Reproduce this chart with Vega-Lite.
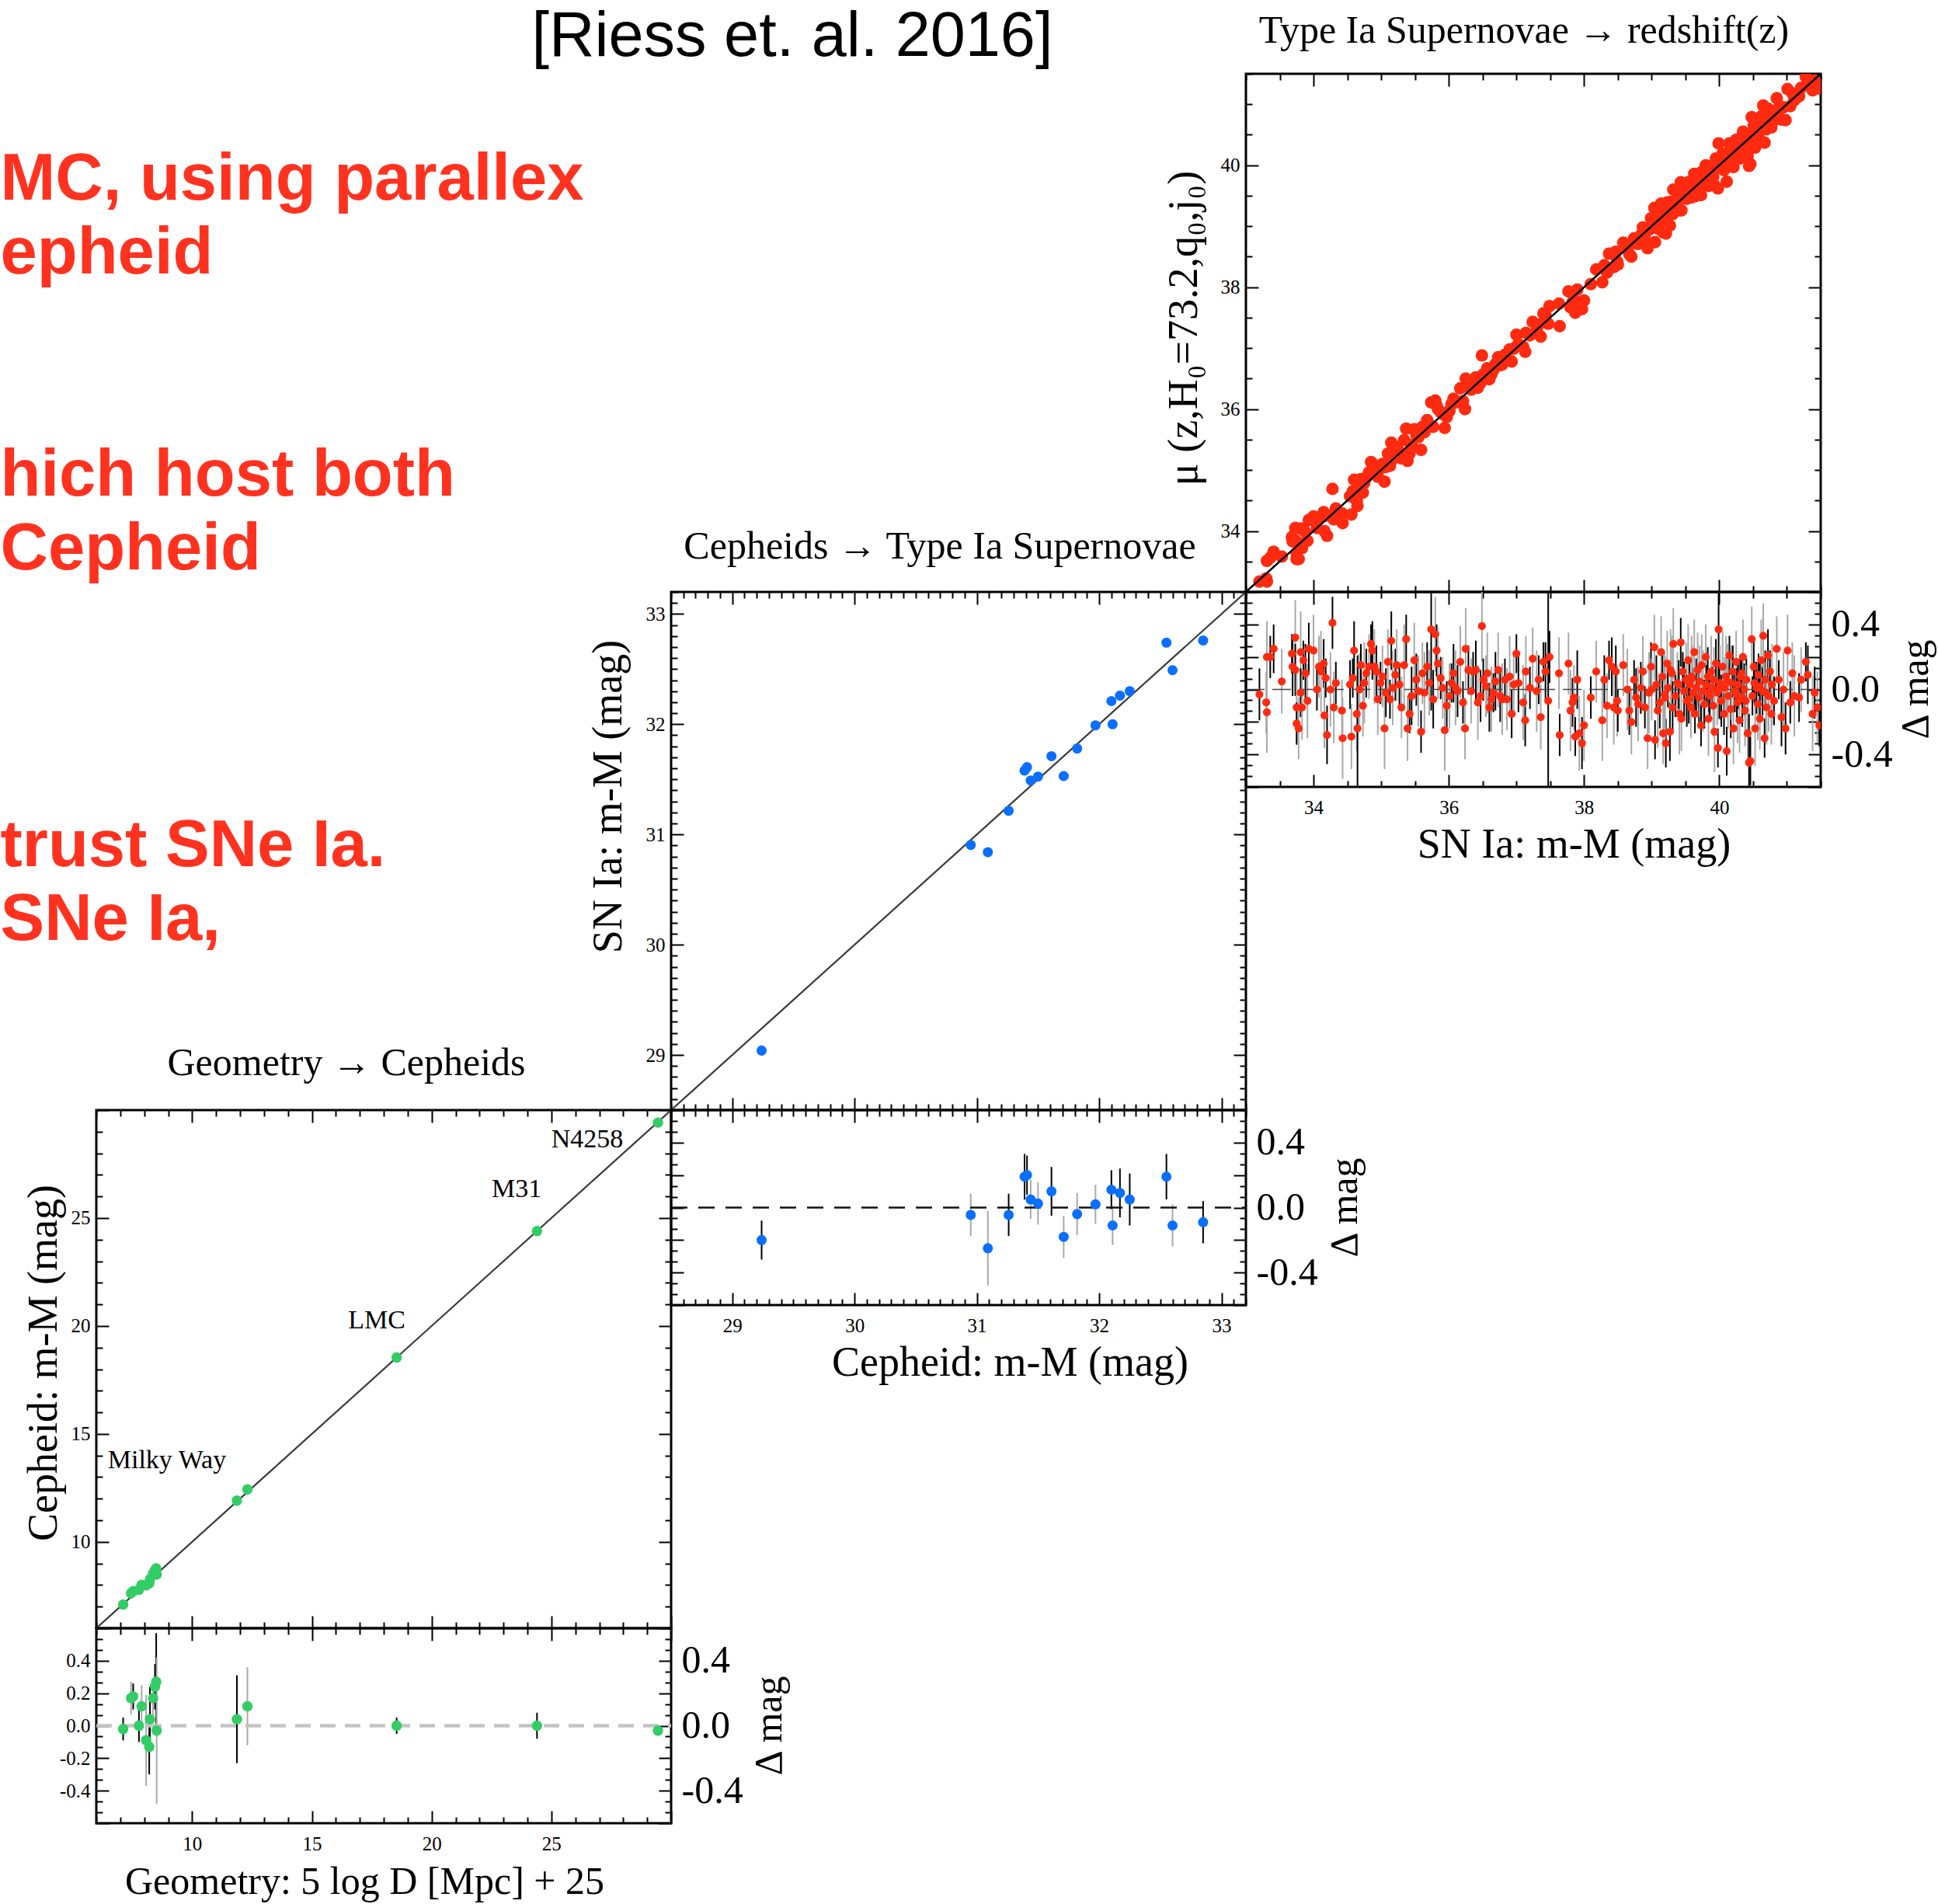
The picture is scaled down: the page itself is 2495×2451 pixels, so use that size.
{
  "$schema": "https://vega.github.io/schema/vega-lite/v6.json",
  "background": "white",
  "padding": 0,
  "columns": 4,
  "spacing": 0,
  "bounds": "flush",
  "align": "each",
  "config": {
    "view": {"stroke": null},
    "font": "Liberation Serif",
    "axis": {
      "grid": false, "domain": false, "ticks": true, "tickColor": "black", "tickWidth": 2,
      "labelFont": "Liberation Serif", "labelFontSize": 25, "labelColor": "black", "labelPadding": 24,
      "labelOverlap": false, "labelFlush": false,
      "titleFont": "Liberation Serif", "titleFontSize": 54, "titleFontWeight": "normal", "titleColor": "black"
    },
    "title": {"font": "Liberation Serif", "fontSize": 50, "fontWeight": "normal", "color": "black", "anchor": "middle", "baseline": "alphabetic"}
  },
  "datasets": {
    "notes": [
      {"t": "MC, using parallex", "line": 0},
      {"t": "epheid", "line": 1},
      {"t": "hich host both", "line": 4},
      {"t": "Cepheid", "line": 5},
      {"t": "\u00a0trust SNe Ia.", "line": 9},
      {"t": "SNe Ia,", "line": 10}
    ],
    "gal": [
      {"t": "Milky Way", "x": 8.95, "y": 13.76},
      {"t": "LMC", "x": 17.71, "y": 20.26},
      {"t": "M31", "x": 23.55, "y": 26.34},
      {"t": "N4258", "x": 26.5, "y": 28.64}
    ],
    "geo": [
      {"x":7.12,"y":7.1,"d":-0.02,"e":0.07,"g":"k"},
      {"x":7.45,"y":7.62,"d":0.17,"e":0.1,"g":"s"},
      {"x":7.54,"y":7.72,"d":0.18,"e":0.08,"g":"k"},
      {"x":7.78,"y":7.78,"d":0,"e":0.1,"g":"k"},
      {"x":7.89,"y":8.01,"d":0.12,"e":0.13,"g":"s"},
      {"x":8.08,"y":7.99,"d":-0.09,"e":0.28,"g":"s"},
      {"x":8.21,"y":8.08,"d":-0.13,"e":0.17,"g":"k"},
      {"x":8.24,"y":8.28,"d":0.04,"e":0.2,"g":"k"},
      {"x":8.37,"y":8.54,"d":0.17,"e":0.12,"g":"s"},
      {"x":8.45,"y":8.69,"d":0.24,"e":0.14,"g":"k"},
      {"x":8.5,"y":8.77,"d":0.27,"e":0.3,"g":"k"},
      {"x":8.52,"y":8.49,"d":-0.03,"e":0.45,"g":"s"},
      {"x":11.87,"y":11.91,"d":0.04,"e":0.27,"g":"k"},
      {"x":12.31,"y":12.43,"d":0.12,"e":0.24,"g":"s"},
      {"x":18.54,"y":18.54,"d":0,"e":0.05,"g":"k"},
      {"x":24.4,"y":24.4,"d":0,"e":0.08,"g":"k"},
      {"x":29.45,"y":29.42,"d":-0.03,"e":0.03,"g":"k"}
    ],
    "ceph": [
      {"x":29.24,"y":29.04,"d":-0.2,"e":0.12,"g":"k"},
      {"x":30.95,"y":30.905,"d":-0.045,"e":0.13,"g":"s"},
      {"x":31.09,"y":30.84,"d":-0.25,"e":0.23,"g":"s"},
      {"x":31.26,"y":31.215,"d":-0.045,"e":0.13,"g":"k"},
      {"x":31.39,"y":31.58,"d":0.19,"e":0.14,"g":"k"},
      {"x":31.41,"y":31.61,"d":0.2,"e":0.12,"g":"k"},
      {"x":31.44,"y":31.49,"d":0.05,"e":0.12,"g":"s"},
      {"x":31.5,"y":31.525,"d":0.025,"e":0.13,"g":"s"},
      {"x":31.61,"y":31.71,"d":0.1,"e":0.15,"g":"k"},
      {"x":31.71,"y":31.53,"d":-0.18,"e":0.13,"g":"s"},
      {"x":31.82,"y":31.78,"d":-0.04,"e":0.13,"g":"s"},
      {"x":31.97,"y":31.99,"d":0.02,"e":0.12,"g":"s"},
      {"x":32.1,"y":32.21,"d":0.11,"e":0.12,"g":"k"},
      {"x":32.11,"y":32,"d":-0.11,"e":0.12,"g":"s"},
      {"x":32.17,"y":32.26,"d":0.09,"e":0.15,"g":"k"},
      {"x":32.25,"y":32.3,"d":0.05,"e":0.16,"g":"k"},
      {"x":32.55,"y":32.74,"d":0.19,"e":0.14,"g":"k"},
      {"x":32.6,"y":32.49,"d":-0.11,"e":0.13,"g":"s"},
      {"x":32.85,"y":32.76,"d":-0.09,"e":0.13,"g":"k"}
    ],
    "sn": [
      {"x":33.2,"mu":33.17,"d":-0.03,"e":0.16,"g":"k"},
      {"x":33.31,"mu":33.51,"d":0.2,"e":0.22,"g":"s"},
      {"x":33.36,"mu":33.56,"d":0.2,"e":0.13,"g":"k"},
      {"x":33.3,"mu":33.22,"d":-0.08,"e":0.19,"g":"s"},
      {"x":33.31,"mu":33.17,"d":-0.14,"e":0.25,"g":"s"},
      {"x":33.41,"mu":33.66,"d":0.25,"e":0.15,"g":"k"},
      {"x":33.53,"mu":33.58,"d":0.05,"e":0.2,"g":"s"},
      {"x":33.68,"mu":33.9,"d":0.22,"e":0.12,"g":"k"},
      {"x":33.69,"mu":33.83,"d":0.14,"e":0.18,"g":"k"},
      {"x":33.73,"mu":34.05,"d":0.32,"e":0.23,"g":"s"},
      {"x":33.73,"mu":33.85,"d":0.12,"e":0.16,"g":"k"},
      {"x":33.75,"mu":33.64,"d":-0.11,"e":0.22,"g":"s"},
      {"x":33.75,"mu":33.54,"d":-0.21,"e":0.13,"g":"k"},
      {"x":33.78,"mu":33.54,"d":-0.24,"e":0.19,"g":"s"},
      {"x":33.81,"mu":34.04,"d":0.23,"e":0.25,"g":"s"},
      {"x":33.81,"mu":33.79,"d":-0.02,"e":0.15,"g":"k"},
      {"x":33.83,"mu":33.72,"d":-0.11,"e":0.2,"g":"s"},
      {"x":33.85,"mu":34.03,"d":0.18,"e":0.12,"g":"k"},
      {"x":33.88,"mu":33.98,"d":0.1,"e":0.18,"g":"k"},
      {"x":33.91,"mu":33.84,"d":-0.07,"e":0.23,"g":"s"},
      {"x":33.93,"mu":34.18,"d":0.25,"e":0.16,"g":"k"},
      {"x":34,"mu":34.24,"d":0.24,"e":0.22,"g":"s"},
      {"x":34.05,"mu":34.05,"d":0,"e":0.13,"g":"k"},
      {"x":34.08,"mu":34.22,"d":0.14,"e":0.19,"g":"s"},
      {"x":34.11,"mu":34.22,"d":0.11,"e":0.25,"g":"s"},
      {"x":34.15,"mu":34.31,"d":0.16,"e":0.15,"g":"k"},
      {"x":34.16,"mu":34,"d":-0.16,"e":0.2,"g":"s"},
      {"x":34.18,"mu":34.25,"d":0.07,"e":0.12,"g":"k"},
      {"x":34.2,"mu":33.92,"d":-0.28,"e":0.18,"g":"k"},
      {"x":34.25,"mu":34.25,"d":0,"e":0.23,"g":"s"},
      {"x":34.28,"mu":34.69,"d":0.41,"e":0.16,"g":"k"},
      {"x":34.3,"mu":34.19,"d":-0.11,"e":0.22,"g":"s"},
      {"x":34.33,"mu":34.37,"d":0.04,"e":0.13,"g":"k"},
      {"x":34.42,"mu":34.29,"d":-0.13,"e":0.19,"g":"s"},
      {"x":34.43,"mu":34.13,"d":-0.3,"e":0.25,"g":"s"},
      {"x":34.54,"mu":34.57,"d":0.03,"e":0.15,"g":"k"},
      {"x":34.56,"mu":34.27,"d":-0.29,"e":0.2,"g":"s"},
      {"x":34.58,"mu":34.65,"d":0.07,"e":0.12,"g":"k"},
      {"x":34.6,"mu":34.84,"d":0.24,"e":0.18,"g":"k"},
      {"x":34.64,"mu":34.49,"d":-0.15,"e":0.23,"g":"s"},
      {"x":34.65,"mu":34.41,"d":-0.24,"e":0.45,"g":"k"},
      {"x":34.68,"mu":34.68,"d":0,"e":0.22,"g":"s"},
      {"x":34.7,"mu":34.85,"d":0.15,"e":0.13,"g":"k"},
      {"x":34.73,"mu":34.63,"d":-0.1,"e":0.19,"g":"s"},
      {"x":34.75,"mu":34.79,"d":0.04,"e":0.25,"g":"s"},
      {"x":34.78,"mu":34.88,"d":0.1,"e":0.15,"g":"k"},
      {"x":34.82,"mu":34.96,"d":0.14,"e":0.2,"g":"s"},
      {"x":34.85,"mu":35.13,"d":0.28,"e":0.12,"g":"k"},
      {"x":34.87,"mu":35.11,"d":0.24,"e":0.18,"g":"k"},
      {"x":34.9,"mu":35.04,"d":0.14,"e":0.23,"g":"s"},
      {"x":34.93,"mu":35.04,"d":0.11,"e":0.16,"g":"k"},
      {"x":34.95,"mu":34.89,"d":-0.06,"e":0.22,"g":"s"},
      {"x":34.99,"mu":35.03,"d":0.04,"e":0.13,"g":"k"},
      {"x":35.02,"mu":35.1,"d":0.08,"e":0.19,"g":"s"},
      {"x":35.05,"mu":34.81,"d":-0.24,"e":0.25,"g":"s"},
      {"x":35.07,"mu":35.05,"d":-0.02,"e":0.15,"g":"k"},
      {"x":35.1,"mu":35.27,"d":0.17,"e":0.2,"g":"s"},
      {"x":35.13,"mu":35.07,"d":-0.06,"e":0.12,"g":"k"},
      {"x":35.15,"mu":35.45,"d":0.3,"e":0.18,"g":"k"},
      {"x":35.17,"mu":35.18,"d":0.01,"e":0.23,"g":"s"},
      {"x":35.21,"mu":35.3,"d":0.09,"e":0.16,"g":"k"},
      {"x":35.23,"mu":35.38,"d":0.15,"e":0.22,"g":"s"},
      {"x":35.27,"mu":35.3,"d":0.03,"e":0.13,"g":"k"},
      {"x":35.3,"mu":35.19,"d":-0.11,"e":0.19,"g":"s"},
      {"x":35.34,"mu":35.49,"d":0.15,"e":0.25,"g":"s"},
      {"x":35.37,"mu":35.68,"d":0.31,"e":0.15,"g":"k"},
      {"x":35.39,"mu":35.15,"d":-0.24,"e":0.2,"g":"s"},
      {"x":35.42,"mu":35.27,"d":-0.15,"e":0.12,"g":"k"},
      {"x":35.45,"mu":35.41,"d":-0.04,"e":0.18,"g":"k"},
      {"x":35.49,"mu":35.67,"d":0.18,"e":0.23,"g":"s"},
      {"x":35.52,"mu":35.58,"d":0.06,"e":0.16,"g":"k"},
      {"x":35.55,"mu":35.54,"d":-0.01,"e":0.22,"g":"s"},
      {"x":35.59,"mu":35.33,"d":-0.26,"e":0.13,"g":"k"},
      {"x":35.61,"mu":35.71,"d":0.1,"e":0.19,"g":"s"},
      {"x":35.64,"mu":35.62,"d":-0.02,"e":0.25,"g":"s"},
      {"x":35.68,"mu":35.82,"d":0.14,"e":0.15,"g":"k"},
      {"x":35.71,"mu":35.75,"d":0.04,"e":0.2,"g":"s"},
      {"x":35.74,"mu":36.11,"d":0.37,"e":0.5,"g":"k"},
      {"x":35.77,"mu":35.71,"d":-0.06,"e":0.18,"g":"k"},
      {"x":35.8,"mu":36.14,"d":0.34,"e":0.23,"g":"s"},
      {"x":35.82,"mu":36.06,"d":0.24,"e":0.16,"g":"k"},
      {"x":35.84,"mu":36,"d":0.16,"e":0.22,"g":"s"},
      {"x":35.88,"mu":35.95,"d":0.07,"e":0.13,"g":"k"},
      {"x":35.91,"mu":35.92,"d":0.01,"e":0.19,"g":"s"},
      {"x":35.94,"mu":35.69,"d":-0.25,"e":0.25,"g":"s"},
      {"x":35.97,"mu":35.87,"d":-0.1,"e":0.15,"g":"k"},
      {"x":36.01,"mu":35.97,"d":-0.04,"e":0.2,"g":"s"},
      {"x":36.04,"mu":36.08,"d":0.04,"e":0.12,"g":"k"},
      {"x":36.07,"mu":36.17,"d":0.1,"e":0.18,"g":"k"},
      {"x":36.1,"mu":36.11,"d":0.01,"e":0.23,"g":"s"},
      {"x":36.13,"mu":36.12,"d":-0.01,"e":0.16,"g":"k"},
      {"x":36.17,"mu":36.34,"d":0.17,"e":0.22,"g":"s"},
      {"x":36.21,"mu":36.13,"d":-0.08,"e":0.13,"g":"k"},
      {"x":36.24,"mu":36,"d":-0.24,"e":0.19,"g":"s"},
      {"x":36.25,"mu":36.5,"d":0.25,"e":0.25,"g":"s"},
      {"x":36.29,"mu":36.41,"d":0.12,"e":0.15,"g":"k"},
      {"x":36.33,"mu":36.32,"d":-0.01,"e":0.2,"g":"s"},
      {"x":36.36,"mu":36.47,"d":0.11,"e":0.12,"g":"k"},
      {"x":36.4,"mu":36.52,"d":0.12,"e":0.18,"g":"k"},
      {"x":36.43,"mu":36.35,"d":-0.08,"e":0.23,"g":"s"},
      {"x":36.47,"mu":36.43,"d":-0.04,"e":0.16,"g":"k"},
      {"x":36.49,"mu":36.88,"d":0.39,"e":0.22,"g":"s"},
      {"x":36.51,"mu":36.57,"d":0.06,"e":0.13,"g":"k"},
      {"x":36.55,"mu":36.57,"d":0.02,"e":0.19,"g":"s"},
      {"x":36.57,"mu":36.67,"d":0.1,"e":0.25,"g":"s"},
      {"x":36.6,"mu":36.49,"d":-0.11,"e":0.15,"g":"k"},
      {"x":36.63,"mu":36.57,"d":-0.06,"e":0.2,"g":"s"},
      {"x":36.66,"mu":36.64,"d":-0.02,"e":0.12,"g":"k"},
      {"x":36.69,"mu":36.74,"d":0.05,"e":0.18,"g":"k"},
      {"x":36.73,"mu":36.85,"d":0.12,"e":0.23,"g":"s"},
      {"x":36.76,"mu":36.72,"d":-0.04,"e":0.16,"g":"k"},
      {"x":36.79,"mu":36.73,"d":-0.06,"e":0.22,"g":"s"},
      {"x":36.83,"mu":36.89,"d":0.06,"e":0.13,"g":"k"},
      {"x":36.86,"mu":36.8,"d":-0.06,"e":0.19,"g":"s"},
      {"x":36.9,"mu":36.98,"d":0.08,"e":0.25,"g":"s"},
      {"x":36.93,"mu":36.78,"d":-0.15,"e":0.15,"g":"k"},
      {"x":36.96,"mu":36.99,"d":0.03,"e":0.2,"g":"s"},
      {"x":37,"mu":37.22,"d":0.22,"e":0.12,"g":"k"},
      {"x":37.03,"mu":37.07,"d":0.04,"e":0.18,"g":"k"},
      {"x":37.1,"mu":37.02,"d":-0.08,"e":0.23,"g":"s"},
      {"x":37.13,"mu":36.94,"d":-0.19,"e":0.16,"g":"k"},
      {"x":37.14,"mu":37.25,"d":0.11,"e":0.22,"g":"s"},
      {"x":37.2,"mu":37.21,"d":0.01,"e":0.13,"g":"k"},
      {"x":37.24,"mu":37.43,"d":0.19,"e":0.19,"g":"s"},
      {"x":37.3,"mu":37.29,"d":-0.01,"e":0.25,"g":"s"},
      {"x":37.33,"mu":37.39,"d":0.06,"e":0.15,"g":"k"},
      {"x":37.36,"mu":37.19,"d":-0.17,"e":0.2,"g":"s"},
      {"x":37.4,"mu":37.57,"d":0.17,"e":0.12,"g":"k"},
      {"x":37.43,"mu":37.54,"d":0.11,"e":0.18,"g":"k"},
      {"x":37.47,"mu":37.4,"d":-0.07,"e":0.75,"g":"k"},
      {"x":37.49,"mu":37.69,"d":0.2,"e":0.16,"g":"k"},
      {"x":37.63,"mu":37.73,"d":0.1,"e":0.22,"g":"s"},
      {"x":37.64,"mu":37.36,"d":-0.28,"e":0.13,"g":"k"},
      {"x":37.77,"mu":37.93,"d":0.16,"e":0.19,"g":"s"},
      {"x":37.8,"mu":37.67,"d":-0.13,"e":0.25,"g":"s"},
      {"x":37.83,"mu":37.75,"d":-0.08,"e":0.15,"g":"k"},
      {"x":37.85,"mu":37.8,"d":-0.05,"e":0.2,"g":"s"},
      {"x":37.87,"mu":37.58,"d":-0.29,"e":0.12,"g":"k"},
      {"x":37.9,"mu":37.96,"d":0.06,"e":0.18,"g":"k"},
      {"x":37.93,"mu":37.66,"d":-0.27,"e":0.23,"g":"s"},
      {"x":37.97,"mu":37.64,"d":-0.33,"e":0.16,"g":"k"},
      {"x":38,"mu":37.78,"d":-0.22,"e":0.22,"g":"s"},
      {"x":38.1,"mu":38.05,"d":-0.05,"e":0.13,"g":"k"},
      {"x":38.18,"mu":38.29,"d":0.11,"e":0.19,"g":"s"},
      {"x":38.27,"mu":38.08,"d":-0.19,"e":0.25,"g":"s"},
      {"x":38.3,"mu":38.36,"d":0.06,"e":0.15,"g":"k"},
      {"x":38.34,"mu":38.24,"d":-0.1,"e":0.2,"g":"s"},
      {"x":38.37,"mu":38.55,"d":0.18,"e":0.12,"g":"k"},
      {"x":38.41,"mu":38.55,"d":0.14,"e":0.18,"g":"k"},
      {"x":38.44,"mu":38.33,"d":-0.11,"e":0.23,"g":"s"},
      {"x":38.47,"mu":38.58,"d":0.11,"e":0.16,"g":"k"},
      {"x":38.49,"mu":38.42,"d":-0.07,"e":0.22,"g":"s"},
      {"x":38.5,"mu":38.37,"d":-0.13,"e":0.13,"g":"k"},
      {"x":38.58,"mu":38.73,"d":0.15,"e":0.19,"g":"s"},
      {"x":38.64,"mu":38.64,"d":0,"e":0.25,"g":"s"},
      {"x":38.67,"mu":38.54,"d":-0.13,"e":0.15,"g":"k"},
      {"x":38.7,"mu":38.5,"d":-0.2,"e":0.2,"g":"s"},
      {"x":38.74,"mu":38.8,"d":0.06,"e":0.12,"g":"k"},
      {"x":38.77,"mu":38.72,"d":-0.05,"e":0.18,"g":"k"},
      {"x":38.8,"mu":38.71,"d":-0.09,"e":0.23,"g":"s"},
      {"x":38.84,"mu":38.85,"d":0.01,"e":0.16,"g":"k"},
      {"x":38.87,"mu":38.98,"d":0.11,"e":0.22,"g":"s"},
      {"x":38.9,"mu":38.79,"d":-0.11,"e":0.13,"g":"k"},
      {"x":38.94,"mu":38.64,"d":-0.3,"e":0.19,"g":"s"},
      {"x":38.96,"mu":38.94,"d":-0.02,"e":0.25,"g":"s"},
      {"x":38.99,"mu":39.13,"d":0.14,"e":0.15,"g":"k"},
      {"x":39.04,"mu":39.3,"d":0.26,"e":0.2,"g":"s"},
      {"x":39.05,"mu":38.74,"d":-0.31,"e":0.12,"g":"k"},
      {"x":39.07,"mu":39.1,"d":0.03,"e":0.18,"g":"k"},
      {"x":39.09,"mu":38.96,"d":-0.13,"e":0.23,"g":"s"},
      {"x":39.12,"mu":39.04,"d":-0.08,"e":0.16,"g":"k"},
      {"x":39.14,"mu":39.37,"d":0.23,"e":0.22,"g":"s"},
      {"x":39.16,"mu":39.24,"d":0.08,"e":0.13,"g":"k"},
      {"x":39.17,"mu":38.9,"d":-0.27,"e":0.19,"g":"s"},
      {"x":39.19,"mu":39.16,"d":-0.03,"e":0.25,"g":"s"},
      {"x":39.21,"mu":38.88,"d":-0.33,"e":0.15,"g":"k"},
      {"x":39.23,"mu":39.39,"d":0.16,"e":0.2,"g":"s"},
      {"x":39.24,"mu":39.25,"d":0.01,"e":0.12,"g":"k"},
      {"x":39.27,"mu":39.01,"d":-0.26,"e":0.18,"g":"k"},
      {"x":39.3,"mu":39.4,"d":0.1,"e":0.23,"g":"s"},
      {"x":39.31,"mu":39.2,"d":-0.11,"e":0.16,"g":"k"},
      {"x":39.32,"mu":39.6,"d":0.28,"e":0.22,"g":"s"},
      {"x":39.35,"mu":39.31,"d":-0.04,"e":0.13,"g":"k"},
      {"x":39.38,"mu":39.42,"d":0.04,"e":0.19,"g":"s"},
      {"x":39.41,"mu":39.26,"d":-0.15,"e":0.25,"g":"s"},
      {"x":39.43,"mu":39.72,"d":0.29,"e":0.15,"g":"k"},
      {"x":39.44,"mu":39.26,"d":-0.18,"e":0.2,"g":"s"},
      {"x":39.46,"mu":39.57,"d":0.11,"e":0.12,"g":"k"},
      {"x":39.48,"mu":39.47,"d":-0.01,"e":0.18,"g":"k"},
      {"x":39.51,"mu":39.57,"d":0.06,"e":0.23,"g":"s"},
      {"x":39.52,"mu":39.45,"d":-0.07,"e":0.16,"g":"k"},
      {"x":39.54,"mu":39.72,"d":0.18,"e":0.22,"g":"s"},
      {"x":39.56,"mu":39.59,"d":0.03,"e":0.13,"g":"k"},
      {"x":39.58,"mu":39.47,"d":-0.11,"e":0.19,"g":"s"},
      {"x":39.59,"mu":39.67,"d":0.08,"e":0.25,"g":"s"},
      {"x":39.61,"mu":39.59,"d":-0.02,"e":0.15,"g":"k"},
      {"x":39.63,"mu":39.86,"d":0.23,"e":0.2,"g":"s"},
      {"x":39.64,"mu":39.49,"d":-0.15,"e":0.12,"g":"k"},
      {"x":39.66,"mu":39.67,"d":0.01,"e":0.18,"g":"k"},
      {"x":39.68,"mu":39.8,"d":0.12,"e":0.23,"g":"s"},
      {"x":39.7,"mu":39.65,"d":-0.05,"e":0.16,"g":"k"},
      {"x":39.71,"mu":39.76,"d":0.05,"e":0.22,"g":"s"},
      {"x":39.73,"mu":39.51,"d":-0.22,"e":0.13,"g":"k"},
      {"x":39.74,"mu":39.89,"d":0.15,"e":0.19,"g":"s"},
      {"x":39.76,"mu":39.75,"d":-0.01,"e":0.25,"g":"s"},
      {"x":39.78,"mu":39.69,"d":-0.09,"e":0.15,"g":"k"},
      {"x":39.8,"mu":40,"d":0.2,"e":0.2,"g":"s"},
      {"x":39.81,"mu":39.84,"d":0.03,"e":0.12,"g":"k"},
      {"x":39.83,"mu":39.91,"d":0.08,"e":0.18,"g":"k"},
      {"x":39.84,"mu":39.66,"d":-0.18,"e":0.23,"g":"s"},
      {"x":39.86,"mu":39.82,"d":-0.04,"e":0.16,"g":"k"},
      {"x":39.88,"mu":39.99,"d":0.11,"e":0.22,"g":"s"},
      {"x":39.9,"mu":39.91,"d":0.01,"e":0.13,"g":"k"},
      {"x":39.91,"mu":39.81,"d":-0.1,"e":0.19,"g":"s"},
      {"x":39.93,"mu":39.67,"d":-0.26,"e":0.25,"g":"s"},
      {"x":39.95,"mu":40.11,"d":0.16,"e":0.15,"g":"k"},
      {"x":39.97,"mu":39.95,"d":-0.02,"e":0.2,"g":"s"},
      {"x":39.98,"mu":39.62,"d":-0.36,"e":0.12,"g":"k"},
      {"x":39.99,"mu":40.36,"d":0.37,"e":0.35,"g":"k"},
      {"x":40.01,"mu":40.05,"d":0.04,"e":0.23,"g":"s"},
      {"x":40.03,"mu":39.96,"d":-0.07,"e":0.16,"g":"k"},
      {"x":40.05,"mu":40.19,"d":0.14,"e":0.22,"g":"s"},
      {"x":40.07,"mu":39.92,"d":-0.15,"e":0.13,"g":"k"},
      {"x":40.08,"mu":40.09,"d":0.01,"e":0.19,"g":"s"},
      {"x":40.1,"mu":40.18,"d":0.08,"e":0.25,"g":"s"},
      {"x":40.11,"mu":39.73,"d":-0.38,"e":0.15,"g":"k"},
      {"x":40.13,"mu":40.09,"d":-0.04,"e":0.2,"g":"s"},
      {"x":40.15,"mu":40.36,"d":0.21,"e":0.12,"g":"k"},
      {"x":40.17,"mu":40.05,"d":-0.12,"e":0.18,"g":"k"},
      {"x":40.18,"mu":40.22,"d":0.04,"e":0.23,"g":"s"},
      {"x":40.2,"mu":40.31,"d":0.11,"e":0.16,"g":"k"},
      {"x":40.21,"mu":39.97,"d":-0.24,"e":0.22,"g":"s"},
      {"x":40.23,"mu":40.22,"d":-0.01,"e":0.13,"g":"k"},
      {"x":40.25,"mu":40.42,"d":0.17,"e":0.19,"g":"s"},
      {"x":40.27,"mu":40.19,"d":-0.08,"e":0.25,"g":"s"},
      {"x":40.28,"mu":40.31,"d":0.03,"e":0.15,"g":"k"},
      {"x":40.3,"mu":40.11,"d":-0.19,"e":0.2,"g":"s"},
      {"x":40.31,"mu":40.39,"d":0.08,"e":0.12,"g":"k"},
      {"x":40.34,"mu":40.29,"d":-0.05,"e":0.18,"g":"k"},
      {"x":40.35,"mu":40.55,"d":0.2,"e":0.23,"g":"s"},
      {"x":40.37,"mu":40.37,"d":0,"e":0.16,"g":"k"},
      {"x":40.38,"mu":40.25,"d":-0.13,"e":0.22,"g":"s"},
      {"x":40.4,"mu":40.46,"d":0.06,"e":0.13,"g":"k"},
      {"x":40.42,"mu":40.15,"d":-0.27,"e":0.19,"g":"s"},
      {"x":40.44,"mu":39.99,"d":-0.45,"e":0.3,"g":"k"},
      {"x":40.46,"mu":40.02,"d":-0.44,"e":0.15,"g":"k"},
      {"x":40.48,"mu":40.79,"d":0.31,"e":0.2,"g":"s"},
      {"x":40.49,"mu":40.45,"d":-0.04,"e":0.12,"g":"k"},
      {"x":40.51,"mu":40.65,"d":0.14,"e":0.18,"g":"k"},
      {"x":40.53,"mu":40.29,"d":-0.24,"e":0.23,"g":"s"},
      {"x":40.55,"mu":40.56,"d":0.01,"e":0.16,"g":"k"},
      {"x":40.57,"mu":40.48,"d":-0.09,"e":0.22,"g":"s"},
      {"x":40.58,"mu":40.67,"d":0.09,"e":0.13,"g":"k"},
      {"x":40.6,"mu":40.42,"d":-0.18,"e":0.19,"g":"s"},
      {"x":40.62,"mu":40.8,"d":0.18,"e":0.25,"g":"s"},
      {"x":40.64,"mu":40.63,"d":-0.01,"e":0.15,"g":"k"},
      {"x":40.65,"mu":40.98,"d":0.33,"e":0.2,"g":"s"},
      {"x":40.67,"mu":40.37,"d":-0.3,"e":0.12,"g":"k"},
      {"x":40.68,"mu":40.74,"d":0.06,"e":0.18,"g":"k"},
      {"x":40.7,"mu":40.59,"d":-0.11,"e":0.23,"g":"s"},
      {"x":40.72,"mu":40.93,"d":0.21,"e":0.16,"g":"k"},
      {"x":40.73,"mu":40.69,"d":-0.04,"e":0.22,"g":"s"},
      {"x":40.75,"mu":40.86,"d":0.11,"e":0.13,"g":"k"},
      {"x":40.77,"mu":40.62,"d":-0.15,"e":0.19,"g":"s"},
      {"x":40.78,"mu":40.81,"d":0.03,"e":0.25,"g":"s"},
      {"x":40.81,"mu":40.74,"d":-0.07,"e":0.15,"g":"k"},
      {"x":40.85,"mu":41.1,"d":0.25,"e":0.2,"g":"s"},
      {"x":40.88,"mu":40.94,"d":0.06,"e":0.12,"g":"k"},
      {"x":40.92,"mu":40.75,"d":-0.17,"e":0.18,"g":"k"},
      {"x":40.95,"mu":40.95,"d":0,"e":0.23,"g":"s"},
      {"x":40.98,"mu":40.74,"d":-0.24,"e":0.16,"g":"k"},
      {"x":41.01,"mu":41.25,"d":0.24,"e":0.22,"g":"s"},
      {"x":41.05,"mu":40.97,"d":-0.08,"e":0.13,"g":"k"},
      {"x":41.08,"mu":41.18,"d":0.1,"e":0.19,"g":"s"},
      {"x":41.11,"mu":41.07,"d":-0.04,"e":0.25,"g":"s"},
      {"x":41.18,"mu":41.13,"d":-0.05,"e":0.15,"g":"k"},
      {"x":41.21,"mu":41.27,"d":0.06,"e":0.2,"g":"s"},
      {"x":41.28,"mu":41.45,"d":0.17,"e":0.12,"g":"k"},
      {"x":41.31,"mu":41.4,"d":0.09,"e":0.18,"g":"k"},
      {"x":41.38,"mu":41.23,"d":-0.15,"e":0.23,"g":"s"},
      {"x":41.41,"mu":41.39,"d":-0.02,"e":0.16,"g":"k"},
      {"x":41.45,"mu":41.34,"d":-0.11,"e":0.22,"g":"s"},
      {"x":41.48,"mu":41.26,"d":-0.22,"e":0.13,"g":"k"},
      {"x":39,"mu":39,"d":0,"e":0.19,"g":"s"},
      {"x":39.2,"mu":39.15,"d":-0.05,"e":0.25,"g":"s"},
      {"x":39.4,"mu":39.43,"d":0.03,"e":0.15,"g":"k"},
      {"x":39.6,"mu":39.67,"d":0.07,"e":0.2,"g":"s"},
      {"x":39.85,"mu":39.83,"d":-0.02,"e":0.12,"g":"k"},
      {"x":40,"mu":40,"d":0,"e":0.18,"g":"k"},
      {"x":40.12,"mu":40.17,"d":0.05,"e":0.23,"g":"s"},
      {"x":40.26,"mu":40.23,"d":-0.03,"e":0.16,"g":"k"},
      {"x":40.39,"mu":40.32,"d":-0.07,"e":0.22,"g":"s"},
      {"x":40.52,"mu":40.56,"d":0.04,"e":0.13,"g":"k"},
      {"x":40.69,"mu":40.67,"d":-0.02,"e":0.19,"g":"s"},
      {"x":39.28,"mu":39.4,"d":0.12,"e":0.25,"g":"s"},
      {"x":39.55,"mu":39.49,"d":-0.06,"e":0.15,"g":"k"},
      {"x":39.92,"mu":39.98,"d":0.06,"e":0.2,"g":"s"},
      {"x":40.33,"mu":40.43,"d":0.1,"e":0.12,"g":"k"},
      {"x":40.6,"mu":40.62,"d":0.02,"e":0.18,"g":"k"}
    ]
  },
  "concat": [
    {"width": 124, "height": 95, "data": {"values": []}, "mark": "point"},
    {"width": 1, "height": 1, "data": {"values": []}, "mark": "point"},
    {"width": 312, "height": 95, "data": {"values": [{"t": "[Riess et. al. 2016]"}]},
     "mark": {"type": "text", "align": "center", "baseline": "middle", "font": "Liberation Sans", "fontSize": 81, "color": "black"},
     "encoding": {"text": {"field": "t"}}},
    {"width": 1, "height": 1, "data": {"values": []}, "mark": "point"},

    {"width": 1, "height": 667, "data": {"name": "notes"},
     "mark": {"type": "text", "align": "left", "baseline": "alphabetic", "font": "Liberation Sans", "fontWeight": "bold", "fontSize": 85, "color": "#ff3220"},
     "encoding": {
       "y": {"field": "line", "type": "quantitative", "scale": {"domain": [-1.7, 5.3], "reverse": true, "nice": false, "zero": false}, "axis": null},
       "text": {"field": "t"}
     }},
    {"width": 1, "height": 1, "data": {"values": []}, "mark": "point"},
    {"width": 1, "height": 1, "data": {"values": []}, "mark": "point"},
    {
      "width": 740, "height": 667,
      "view": {"stroke": "black", "strokeWidth": 3},
      "title": {"text": "Type Ia Supernovae → redshift(z)", "dx": -12, "offset": 18},
      "layer": [
        {"data": {"name": "sn"},
         "mark": {"type": "circle", "color": "#ff2a10", "size": 260, "opacity": 1, "clip": true},
         "encoding": {
           "x": {"field": "x", "type": "quantitative", "scale": {"domain": [33, 41.5], "nice": false, "zero": false},
                 "axis": {"orient": "bottom", "values": [33,33.5,34,34.5,35,35.5,36,36.5,37,37.5,38,38.5,39,39.5,40,40.5,41,41.5], "tickSize": {"condition": {"test": "datum.value % 2 === 0", "value": -16}, "value": -8}, "labels": false, "title": null}},
           "y": {"field": "mu", "type": "quantitative", "scale": {"domain": [33, 41.5], "nice": false, "zero": false},
                 "axis": {"orient": "left", "values": [33,33.5,34,34.5,35,35.5,36,36.5,37,37.5,38,38.5,39,39.5,40,40.5,41,41.5], "tickSize": {"condition": {"test": "datum.value % 2 === 0", "value": -16}, "value": -8}, "labelExpr": "datum.value % 2 === 0 ? '' + datum.value : ''", "title": "μ (z,H₀=73.2,q₀,j₀)", "titleX": -80, "titleY": 327, "titleBaseline": "middle"}}
         }},
        {"data": {"values": [{"a": 33, "b": 33}, {"a": 41.5, "b": 41.5}]},
         "mark": {"type": "line", "color": "black", "strokeWidth": 2.5, "clip": true},
         "encoding": {
           "x": {"field": "a", "type": "quantitative", "scale": {"domain": [33, 41.5], "nice": false, "zero": false},
                 "axis": {"orient": "top", "values": [33,33.5,34,34.5,35,35.5,36,36.5,37,37.5,38,38.5,39,39.5,40,40.5,41,41.5], "tickSize": {"condition": {"test": "datum.value % 2 === 0", "value": -16}, "value": -8}, "labels": false, "title": null}},
           "y": {"field": "b", "type": "quantitative", "scale": {"domain": [33, 41.5], "nice": false, "zero": false},
                 "axis": {"orient": "right", "values": [33,33.5,34,34.5,35,35.5,36,36.5,37,37.5,38,38.5,39,39.5,40,40.5,41,41.5], "tickSize": {"condition": {"test": "datum.value % 2 === 0", "value": -16}, "value": -8}, "labels": false, "title": null}}
         }}
      ],
      "resolve": {"axis": {"x": "independent", "y": "independent"}}
    },

    {"width": 1, "height": 1, "data": {"values": []}, "mark": "point"},
    {"width": 1, "height": 1, "data": {"values": []}, "mark": "point"},
    {
      "width": 740, "height": 667,
      "view": {"stroke": "black", "strokeWidth": 3},
      "title": {"text": "Cepheids → Type Ia Supernovae", "dx": -24, "offset": 21},
      "layer": [
        {"data": {"values": [{"a": 28.5, "b": 28.5}, {"a": 33.2, "b": 33.2}]},
         "mark": {"type": "line", "color": "#3a3a3a", "strokeWidth": 2.2, "clip": true},
         "encoding": {
           "x": {"field": "a", "type": "quantitative", "scale": {"domain": [28.5, 33.2], "nice": false, "zero": false},
                 "axis": {"orient": "top", "values": [28.5,28.6,28.7,28.8,28.9,29,29.1,29.2,29.3,29.4,29.5,29.6,29.7,29.8,29.9,30,30.1,30.2,30.3,30.4,30.5,30.6,30.7,30.8,30.9,31,31.1,31.2,31.3,31.4,31.5,31.6,31.7,31.8,31.9,32,32.1,32.2,32.3,32.4,32.5,32.6,32.7,32.8,32.9,33,33.1,33.2], "tickSize": {"condition": {"test": "abs(datum.value - round(datum.value)) < 1e-6", "value": -16}, "value": -8}, "labels": false, "title": null}},
           "y": {"field": "b", "type": "quantitative", "scale": {"domain": [28.5, 33.2], "nice": false, "zero": false},
                 "axis": {"orient": "right", "values": [28.5,28.6,28.7,28.8,28.9,29,29.1,29.2,29.3,29.4,29.5,29.6,29.7,29.8,29.9,30,30.1,30.2,30.3,30.4,30.5,30.6,30.7,30.8,30.9,31,31.1,31.2,31.3,31.4,31.5,31.6,31.7,31.8,31.9,32,32.1,32.2,32.3,32.4,32.5,32.6,32.7,32.8,32.9,33,33.1,33.2], "tickSize": {"condition": {"test": "abs(datum.value - round(datum.value)) < 1e-6", "value": -16}, "value": -8}, "labels": false, "title": null}}
         }},
        {"data": {"name": "ceph"},
         "mark": {"type": "circle", "color": "#0a6eff", "size": 170, "opacity": 1, "clip": true},
         "encoding": {
           "x": {"field": "x", "type": "quantitative", "scale": {"domain": [28.5, 33.2], "nice": false, "zero": false},
                 "axis": {"orient": "bottom", "values": [28.5,28.6,28.7,28.8,28.9,29,29.1,29.2,29.3,29.4,29.5,29.6,29.7,29.8,29.9,30,30.1,30.2,30.3,30.4,30.5,30.6,30.7,30.8,30.9,31,31.1,31.2,31.3,31.4,31.5,31.6,31.7,31.8,31.9,32,32.1,32.2,32.3,32.4,32.5,32.6,32.7,32.8,32.9,33,33.1,33.2], "tickSize": {"condition": {"test": "abs(datum.value - round(datum.value)) < 1e-6", "value": -16}, "value": -8}, "labels": false, "title": null}},
           "y": {"field": "y", "type": "quantitative", "scale": {"domain": [28.5, 33.2], "nice": false, "zero": false},
                 "axis": {"orient": "left", "values": [28.5,28.6,28.7,28.8,28.9,29,29.1,29.2,29.3,29.4,29.5,29.6,29.7,29.8,29.9,30,30.1,30.2,30.3,30.4,30.5,30.6,30.7,30.8,30.9,31,31.1,31.2,31.3,31.4,31.5,31.6,31.7,31.8,31.9,32,32.1,32.2,32.3,32.4,32.5,32.6,32.7,32.8,32.9,33,33.1,33.2], "tickSize": {"condition": {"test": "abs(datum.value - round(datum.value)) < 1e-6", "value": -16}, "value": -8}, "labelExpr": "abs(datum.value - round(datum.value)) < 1e-6 ? format(datum.value, '.0f') : ''", "title": "SN Ia: m-M (mag)", "titleX": -81, "titleY": 263, "titleBaseline": "middle"}}
         }}
      ],
      "resolve": {"axis": {"x": "independent", "y": "independent"}}
    },
    {
      "width": 740, "height": 251,
      "view": {"stroke": "black", "strokeWidth": 3},
      "layer": [
        {"data": {"name": "sn"},
         "mark": {"type": "errorbar", "ticks": false, "thickness": 2, "clip": true},
         "encoding": {
           "x": {"field": "x", "type": "quantitative", "scale": {"domain": [33, 41.5], "nice": false, "zero": false}, "axis": null},
           "y": {"field": "d", "type": "quantitative", "scale": {"domain": [-0.6, 0.6], "nice": false, "zero": false}, "axis": null},
           "yError": {"field": "e"},
           "color": {"field": "g", "type": "nominal", "scale": {"domain": ["k", "s"], "range": ["#000000", "#a9a9a9"]}, "legend": null}
         }},
        {"data": {"values": [{"a": 33, "b": 0}, {"a": 41.5, "b": 0}]},
         "mark": {"type": "line", "color": "#444444", "strokeWidth": 1.5, "strokeDash": [24, 10]},
         "encoding": {
           "x": {"field": "a", "type": "quantitative", "scale": {"domain": [33, 41.5], "nice": false, "zero": false},
                 "axis": {"orient": "top", "values": [33,33.5,34,34.5,35,35.5,36,36.5,37,37.5,38,38.5,39,39.5,40,40.5,41,41.5], "tickSize": {"condition": {"test": "datum.value % 2 === 0", "value": -16}, "value": -8}, "labels": false, "title": null}},
           "y": {"field": "b", "type": "quantitative", "scale": {"domain": [-0.6, 0.6], "nice": false, "zero": false},
                 "axis": {"orient": "right", "values": [-0.6,-0.5333,-0.4667,-0.4,-0.3333,-0.2667,-0.2,-0.1333,-0.0667,0,0.0667,0.1333,0.2,0.2667,0.3333,0.4,0.4667,0.5333,0.6], "tickSize": {"condition": {"test": "abs(datum.value * 5 - round(datum.value * 5)) < 1e-6", "value": -16}, "value": -8}, "labelExpr": "abs(datum.value) < 1e-6 ? '0.0' : abs(datum.value - 0.4) < 1e-6 ? '0.4' : abs(datum.value + 0.4) < 1e-6 ? '-0.4' : ''", "labelFontSize": 50, "labelPadding": 29, "title": "Δ mag", "titleX": 122, "titleY": 125, "titleAngle": 270, "titleBaseline": "middle", "titleFontSize": 50}}
         }},
        {"data": {"name": "sn"},
         "mark": {"type": "circle", "color": "#ff2a10", "size": 105, "opacity": 1, "clip": true},
         "encoding": {
           "x": {"field": "x", "type": "quantitative", "scale": {"domain": [33, 41.5], "nice": false, "zero": false},
                 "axis": {"orient": "bottom", "values": [33,33.5,34,34.5,35,35.5,36,36.5,37,37.5,38,38.5,39,39.5,40,40.5,41,41.5], "tickSize": {"condition": {"test": "datum.value % 2 === 0", "value": -16}, "value": -8}, "labelExpr": "datum.value % 2 === 0 ? '' + datum.value : ''", "labelPadding": 30, "title": "SN Ia: m-M (mag)", "titleX": 422, "titleY": 90, "titleBaseline": "alphabetic"}},
           "y": {"field": "d", "type": "quantitative", "scale": {"domain": [-0.6, 0.6], "nice": false, "zero": false},
                 "axis": {"orient": "left", "values": [-0.6,-0.5333,-0.4667,-0.4,-0.3333,-0.2667,-0.2,-0.1333,-0.0667,0,0.0667,0.1333,0.2,0.2667,0.3333,0.4,0.4667,0.5333,0.6], "tickSize": {"condition": {"test": "abs(datum.value * 5 - round(datum.value * 5)) < 1e-6", "value": -16}, "value": -8}, "labels": false, "title": null}}
         }}
      ],
      "resolve": {"axis": {"x": "independent", "y": "independent"}}
    },

    {"width": 1, "height": 1, "data": {"values": []}, "mark": "point"},
    {
      "width": 740, "height": 667,
      "view": {"stroke": "black", "strokeWidth": 3},
      "title": {"text": "Geometry → Cepheids", "dx": -48, "offset": 23},
      "layer": [
        {"data": {"values": [{"a": 6, "b": 6}, {"a": 30, "b": 30}]},
         "mark": {"type": "line", "color": "#3a3a3a", "strokeWidth": 2.2, "clip": true},
         "encoding": {
           "x": {"field": "a", "type": "quantitative", "scale": {"domain": [6, 30], "nice": false, "zero": false},
                 "axis": {"orient": "top", "values": [6,7,8,9,10,11,12,13,14,15,16,17,18,19,20,21,22,23,24,25,26,27,28,29,30], "tickSize": {"condition": {"test": "datum.value % 5 === 0", "value": -16}, "value": -8}, "labels": false, "title": null}},
           "y": {"field": "b", "type": "quantitative", "scale": {"domain": [6, 30], "nice": false, "zero": false},
                 "axis": {"orient": "right", "values": [6,7,8,9,10,11,12,13,14,15,16,17,18,19,20,21,22,23,24,25,26,27,28,29,30], "tickSize": {"condition": {"test": "datum.value % 5 === 0", "value": -16}, "value": -8}, "labels": false, "title": null}}
         }},
        {"data": {"name": "geo"},
         "mark": {"type": "circle", "color": "#32cd64", "size": 180, "opacity": 1, "clip": true},
         "encoding": {
           "x": {"field": "x", "type": "quantitative", "scale": {"domain": [6, 30], "nice": false, "zero": false},
                 "axis": {"orient": "bottom", "values": [6,7,8,9,10,11,12,13,14,15,16,17,18,19,20,21,22,23,24,25,26,27,28,29,30], "tickSize": {"condition": {"test": "datum.value % 5 === 0", "value": -16}, "value": -8}, "labels": false, "title": null}},
           "y": {"field": "y", "type": "quantitative", "scale": {"domain": [6, 30], "nice": false, "zero": false},
                 "axis": {"orient": "left", "values": [6,7,8,9,10,11,12,13,14,15,16,17,18,19,20,21,22,23,24,25,26,27,28,29,30], "tickSize": {"condition": {"test": "datum.value % 5 === 0", "value": -16}, "value": -8}, "labelExpr": "datum.value % 5 === 0 && datum.value > 6 && datum.value < 30 ? '' + datum.value : ''", "title": "Cepheid: m-M (mag)", "titleX": -68, "titleY": 325, "titleBaseline": "middle"}}
         }},
        {"data": {"name": "gal"},
         "mark": {"type": "text", "align": "center", "baseline": "middle", "font": "Liberation Serif", "fontSize": 34, "color": "black"},
         "encoding": {
           "x": {"field": "x", "type": "quantitative", "scale": {"domain": [6, 30], "nice": false, "zero": false}, "axis": null},
           "y": {"field": "y", "type": "quantitative", "scale": {"domain": [6, 30], "nice": false, "zero": false}, "axis": null},
           "text": {"field": "t"}
         }}
      ],
      "resolve": {"axis": {"x": "independent", "y": "independent"}}
    },
    {
      "width": 740, "height": 251,
      "view": {"stroke": "black", "strokeWidth": 3},
      "layer": [
        {"data": {"name": "ceph"},
         "mark": {"type": "errorbar", "ticks": false, "thickness": 2, "clip": true},
         "encoding": {
           "x": {"field": "x", "type": "quantitative", "scale": {"domain": [28.5, 33.2], "nice": false, "zero": false}, "axis": null},
           "y": {"field": "d", "type": "quantitative", "scale": {"domain": [-0.6, 0.6], "nice": false, "zero": false}, "axis": null},
           "yError": {"field": "e"},
           "color": {"field": "g", "type": "nominal", "scale": {"domain": ["k", "s"], "range": ["#000000", "#a9a9a9"]}, "legend": null}
         }},
        {"data": {"values": [{"a": 28.5, "b": 0}, {"a": 33.2, "b": 0}]},
         "mark": {"type": "line", "color": "#111111", "strokeWidth": 2.5, "strokeDash": [21, 14]},
         "encoding": {
           "x": {"field": "a", "type": "quantitative", "scale": {"domain": [28.5, 33.2], "nice": false, "zero": false},
                 "axis": {"orient": "top", "values": [28.5,28.6,28.7,28.8,28.9,29,29.1,29.2,29.3,29.4,29.5,29.6,29.7,29.8,29.9,30,30.1,30.2,30.3,30.4,30.5,30.6,30.7,30.8,30.9,31,31.1,31.2,31.3,31.4,31.5,31.6,31.7,31.8,31.9,32,32.1,32.2,32.3,32.4,32.5,32.6,32.7,32.8,32.9,33,33.1,33.2], "tickSize": {"condition": {"test": "abs(datum.value - round(datum.value)) < 1e-6", "value": -16}, "value": -8}, "labels": false, "title": null}},
           "y": {"field": "b", "type": "quantitative", "scale": {"domain": [-0.6, 0.6], "nice": false, "zero": false},
                 "axis": {"orient": "right", "values": [-0.6,-0.5333,-0.4667,-0.4,-0.3333,-0.2667,-0.2,-0.1333,-0.0667,0,0.0667,0.1333,0.2,0.2667,0.3333,0.4,0.4667,0.5333,0.6], "tickSize": {"condition": {"test": "abs(datum.value * 5 - round(datum.value * 5)) < 1e-6", "value": -16}, "value": -8}, "labelExpr": "abs(datum.value) < 1e-6 ? '0.0' : abs(datum.value - 0.4) < 1e-6 ? '0.4' : abs(datum.value + 0.4) < 1e-6 ? '-0.4' : ''", "labelFontSize": 50, "labelPadding": 29, "title": "Δ mag", "titleX": 127, "titleY": 125, "titleAngle": 270, "titleBaseline": "middle", "titleFontSize": 50}}
         }},
        {"data": {"name": "ceph"},
         "mark": {"type": "circle", "color": "#0a6eff", "size": 170, "opacity": 1, "clip": true},
         "encoding": {
           "x": {"field": "x", "type": "quantitative", "scale": {"domain": [28.5, 33.2], "nice": false, "zero": false},
                 "axis": {"orient": "bottom", "values": [28.5,28.6,28.7,28.8,28.9,29,29.1,29.2,29.3,29.4,29.5,29.6,29.7,29.8,29.9,30,30.1,30.2,30.3,30.4,30.5,30.6,30.7,30.8,30.9,31,31.1,31.2,31.3,31.4,31.5,31.6,31.7,31.8,31.9,32,32.1,32.2,32.3,32.4,32.5,32.6,32.7,32.8,32.9,33,33.1,33.2], "tickSize": {"condition": {"test": "abs(datum.value - round(datum.value)) < 1e-6", "value": -16}, "value": -8}, "labelExpr": "abs(datum.value - round(datum.value)) < 1e-6 ? format(datum.value, '.0f') : ''", "labelPadding": 30, "title": "Cepheid: m-M (mag)", "titleX": 436, "titleY": 90, "titleBaseline": "alphabetic"}},
           "y": {"field": "d", "type": "quantitative", "scale": {"domain": [-0.6, 0.6], "nice": false, "zero": false},
                 "axis": {"orient": "left", "values": [-0.6,-0.5333,-0.4667,-0.4,-0.3333,-0.2667,-0.2,-0.1333,-0.0667,0,0.0667,0.1333,0.2,0.2667,0.3333,0.4,0.4667,0.5333,0.6], "tickSize": {"condition": {"test": "abs(datum.value * 5 - round(datum.value * 5)) < 1e-6", "value": -16}, "value": -8}, "labels": false, "title": null}}
         }}
      ],
      "resolve": {"axis": {"x": "independent", "y": "independent"}}
    },
    {"width": 1, "height": 1, "data": {"values": []}, "mark": "point"},

    {"width": 1, "height": 1, "data": {"values": []}, "mark": "point"},
    {
      "width": 740, "height": 251,
      "view": {"stroke": "black", "strokeWidth": 3},
      "layer": [
        {"data": {"name": "geo"},
         "mark": {"type": "errorbar", "ticks": false, "thickness": 2, "clip": true},
         "encoding": {
           "x": {"field": "x", "type": "quantitative", "scale": {"domain": [6, 30], "nice": false, "zero": false}, "axis": null},
           "y": {"field": "d", "type": "quantitative", "scale": {"domain": [-0.6, 0.6], "nice": false, "zero": false}, "axis": null},
           "yError": {"field": "e"},
           "color": {"field": "g", "type": "nominal", "scale": {"domain": ["k", "s"], "range": ["#000000", "#a9a9a9"]}, "legend": null}
         }},
        {"data": {"values": [{"a": 6, "b": 0}, {"a": 30, "b": 0}]},
         "mark": {"type": "line", "color": "#c4c4c4", "strokeWidth": 4.5, "strokeDash": [20, 12]},
         "encoding": {
           "x": {"field": "a", "type": "quantitative", "scale": {"domain": [6, 30], "nice": false, "zero": false},
                 "axis": {"orient": "top", "values": [6,7,8,9,10,11,12,13,14,15,16,17,18,19,20,21,22,23,24,25,26,27,28,29,30], "tickSize": {"condition": {"test": "datum.value % 5 === 0", "value": -16}, "value": -8}, "labels": false, "title": null}},
           "y": {"field": "b", "type": "quantitative", "scale": {"domain": [-0.6, 0.6], "nice": false, "zero": false},
                 "axis": {"orient": "right", "values": [-0.6,-0.5333,-0.4667,-0.4,-0.3333,-0.2667,-0.2,-0.1333,-0.0667,0,0.0667,0.1333,0.2,0.2667,0.3333,0.4,0.4667,0.5333,0.6], "tickSize": {"condition": {"test": "abs(datum.value * 5 - round(datum.value * 5)) < 1e-6", "value": -16}, "value": -8}, "labelExpr": "abs(datum.value) < 1e-6 ? '0.0' : abs(datum.value - 0.4) < 1e-6 ? '0.4' : abs(datum.value + 0.4) < 1e-6 ? '-0.4' : ''", "labelFontSize": 50, "labelPadding": 29, "title": "Δ mag", "titleX": 126, "titleY": 125, "titleAngle": 270, "titleBaseline": "middle", "titleFontSize": 50}}
         }},
        {"data": {"name": "geo"},
         "mark": {"type": "circle", "color": "#32cd64", "size": 180, "opacity": 1, "clip": true},
         "encoding": {
           "x": {"field": "x", "type": "quantitative", "scale": {"domain": [6, 30], "nice": false, "zero": false},
                 "axis": {"orient": "bottom", "values": [6,7,8,9,10,11,12,13,14,15,16,17,18,19,20,21,22,23,24,25,26,27,28,29,30], "tickSize": {"condition": {"test": "datum.value % 5 === 0", "value": -16}, "value": -8}, "labelExpr": "datum.value % 5 === 0 && datum.value > 6 && datum.value < 30 ? '' + datum.value : ''", "labelPadding": 30, "title": "Geometry: 5 log D [Mpc] + 25", "titleFontSize": 50, "titleX": 345, "titleY": 90, "titleBaseline": "alphabetic"}},
           "y": {"field": "d", "type": "quantitative", "scale": {"domain": [-0.6, 0.6], "nice": false, "zero": false},
                 "axis": {"orient": "left", "values": [-0.6,-0.5333,-0.4667,-0.4,-0.3333,-0.2667,-0.2,-0.1333,-0.0667,0,0.0667,0.1333,0.2,0.2667,0.3333,0.4,0.4667,0.5333,0.6], "tickSize": {"condition": {"test": "abs(datum.value * 5 - round(datum.value * 5)) < 1e-6", "value": -16}, "value": -8}, "labelExpr": "abs(datum.value) < 1e-6 ? '0.0' : (abs(datum.value * 5 - round(datum.value * 5)) < 1e-6 && abs(datum.value) < 0.5) ? (datum.value < 0 ? '-' : '') + format(abs(datum.value), '.1f') : ''", "title": null}}
         }}
      ],
      "resolve": {"axis": {"x": "independent", "y": "independent"}}
    },
    {"width": 1, "height": 1, "data": {"values": []}, "mark": "point"},
    {"width": 1, "height": 1, "data": {"values": []}, "mark": "point"}
  ]
}
